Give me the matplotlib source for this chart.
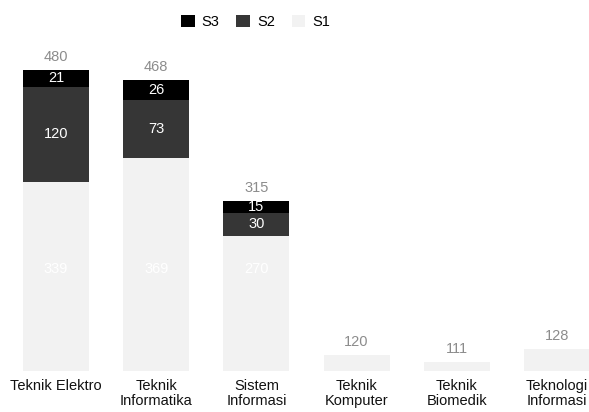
import matplotlib
matplotlib.use("Agg")
import matplotlib.pyplot as plt

plt.rcParams['font.family'] = ['Liberation Sans', 'DejaVu Sans']

categories = ["Teknik Elektro", "Teknik\nInformatika", "Sistem\nInformasi",
              "Teknik\nKomputer", "Teknik\nBiomedik", "Teknologi\nInformasi"]
s1 = [339, 369, 270, 120, 111, 128]
s2 = [120, 73, 30, 0, 0, 0]
s3 = [21, 26, 15, 0, 0, 0]
totals = [a + b + c for a, b, c in zip(s1, s2, s3)]

c1, c2, c3 = "#f2f2f2", "#363636", "#000000"
ymin, ymax = 100, 500
fs = 10.5

fig = plt.figure(figsize=(5.89, 4.12), dpi=100)
ax = fig.add_axes([0.0, 0.1002, 1.0, 0.768])
x = list(range(len(categories)))
w = 0.66
ax.bar(x, s1, width=w, color=c1, label="S1")
ax.bar(x, s2, width=w, bottom=s1, color=c2, label="S2")
b3 = [a + b for a, b in zip(s1, s2)]
ax.bar(x, s3, width=w, bottom=b3, color=c3, label="S3")

ax.set_xlim(-0.56, 5.32)
ax.set_ylim(ymin, ymax)

for i in x:
    if s1[i] - ymin > 60:
        ax.text(i, 228, str(s1[i]), ha="center", va="center", color="white", fontsize=fs)
    if s2[i] > 0:
        ax.text(i, s1[i] + s2[i] / 2, str(s2[i]), ha="center", va="center", color="white", fontsize=fs)
    if s3[i] > 0:
        ax.text(i, b3[i] + s3[i] / 2, str(s3[i]), ha="center", va="center", color="white", fontsize=fs)
    ax.text(i, totals[i] + 16, str(totals[i]), ha="center", va="center", color="#8c8c8c", fontsize=fs)

ax.set_xticks(x)
ax.set_xticklabels(categories, fontsize=fs, color="#111111", linespacing=1.1)
ax.tick_params(axis="x", length=0, pad=6)
ax.set_yticks([])
for sp in ax.spines.values():
    sp.set_visible(False)

h, l = ax.get_legend_handles_labels()
fig.legend(h[::-1], l[::-1], loc="center", bbox_to_anchor=(0.434, 0.947), ncol=3,
           frameon=False, handlelength=0.9, handleheight=0.9, columnspacing=1.15,
           handletextpad=0.5, fontsize=fs)

fig.savefig("out.png", dpi=100)
